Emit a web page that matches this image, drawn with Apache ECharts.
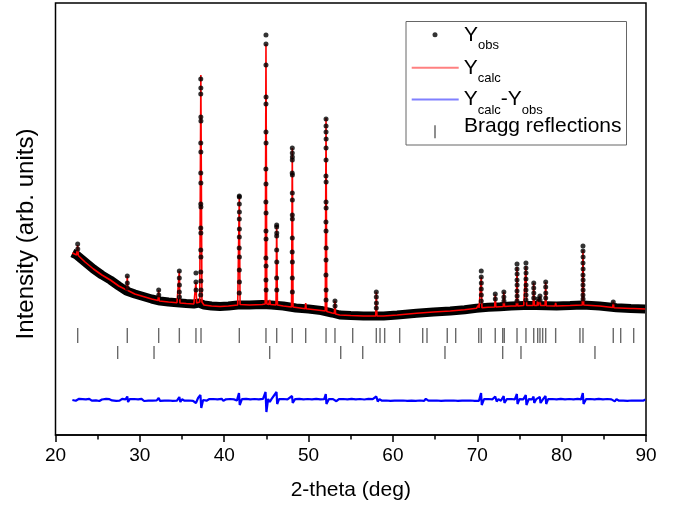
<!DOCTYPE html>
<html><head><meta charset="utf-8">
<script src="https://cdn.jsdelivr.net/npm/echarts@6/dist/echarts.min.js"></script>
<style>html,body{margin:0;padding:0;background:#fff}#c{width:676px;height:511px}</style>
</head><body><div id="c"></div>
<script>
// ---------- data (2-theta in deg, intensity in arb. units) ----------
const xTickValues = [20, 30, 40, 50, 60, 70, 80, 90];

// observed background band (Yobs, dense points shown as a band)
const obsBackground = [[22.0,182],[22.2,182],[22.5,180],[23.5,173],[24.5,166],[25.5,160],[26.5,155],[27.5,149],[28.4,144],[29.4,141],[30.4,138.5],[31.4,136],[32.4,134],[33.4,133],[34.4,132.3],[35.5,131.5],[36.4,131],[37.0,132],[37.6,130],[38.5,129],[39.5,128.5],[40.5,129],[41.6,130],[43.0,130],[44.5,130.5],[45.6,130],[47.0,129],[48.5,127],[50.0,126],[51.5,124.5],[52.8,122],[53.7,120],[55.0,119.5],[56.5,119],[58.9,119],[60.5,120],[62.8,121.7],[64.8,123],[66.8,124],[68.5,125.3],[69.9,126.7],[71.3,127.7],[72.7,128.3],[74.0,129],[75.5,129.5],[77.0,129.5],[79.4,129],[81.0,129.5],[82.5,130],[84.5,129],[86.5,127.3],[88.2,126.5],[89.9,126]];

// observed points on the reflections (Yobs)
const obsPeakPoints = [
 [22.63,191],[22.64,186],
 [28.51,159],[28.51,152],[28.52,147],
 [32.23,145],[32.24,140],
 [34.68,164],[34.68,157],[34.69,150],[34.68,143],[34.69,138],
 [36.65,162],[36.65,153],[36.66,145],
 [37.22,356],[37.23,347],[37.22,341],[37.23,318],[37.24,314],[37.22,292],[37.23,283],[37.22,262],[37.23,252],[37.22,231],[37.24,228],[37.22,207],[37.23,202],[37.22,185],[37.24,178],[37.22,163],[37.24,154],[37.25,145],[37.21,140],
 [41.79,239],[41.79,238],[41.79,231],[41.8,223],[41.79,216],[41.8,206],[41.79,198],[41.78,187],[41.8,178],[41.79,165],[41.8,153],[41.78,142],
 [44.95,400],[44.95,391],[44.95,370],[44.96,338],[44.95,331],[44.95,303],[44.96,292],[44.94,266],[44.95,251],[44.94,233],[44.96,222],[44.95,204],[44.96,196],[44.94,177],[44.96,169],[44.95,155],[44.97,145],
 [46.22,210],[46.22,208],[46.23,202],[46.22,199],[46.22,185],[46.23,173],[46.21,157],[46.23,145],
 [48.07,287],[48.07,282],[48.08,278],[48.07,275],[48.06,262],[48.08,260],[48.07,242],[48.08,235],[48.07,220],[48.08,216],[48.07,197],[48.06,183],[48.08,173],[48.07,157],[48.08,143],
 [52.07,316],[52.07,309],[52.07,303],[52.08,296],[52.07,287],[52.07,275],[52.06,259],[52.08,253],[52.07,233],[52.08,227],[52.06,213],[52.07,204],[52.08,187],[52.07,175],[52.06,160],[52.08,145],[52.07,135],
 [53.13,134],[53.14,129],
 [58.03,143],[58.03,138],[58.04,132],[58.03,127],
 [70.47,164],[70.47,158],[70.48,152],[70.47,146],[70.48,140],[70.47,134],
 [72.13,141],[72.14,136],
 [73.15,143],[73.15,138],[73.16,134],
 [74.71,171],[74.71,166],[74.72,161],[74.71,155],[74.72,150],[74.71,144],[74.72,139],[74.71,134],
 [75.77,172],[75.77,167],[75.78,162],[75.77,156],[75.78,150],[75.77,145],[75.78,140],[75.77,135],
 [76.69,152],[76.69,147],[76.7,142],[76.69,137],
 [77.16,136],[77.43,139],[77.44,135],
 [78.11,153],[78.11,148],[78.12,142],[78.11,137],
 [82.53,189],[82.53,184],[82.54,178],[82.53,172],[82.54,166],[82.53,160],[82.54,155],[82.53,150],[82.54,145],[82.53,140],[82.54,136],
 [86.12,133]
];

// calculated profile (Ycalc)
const calcProfile = [[22.0,182],[22.2,182],[22.5,180],[22.56,180],[22.63,190],[22.7,179.5],[23.5,173],[24.5,166],[25.5,160],[26.5,155],[27.5,149],[28.44,145],[28.51,159],[28.58,144.5],[29.4,141],[30.4,138.5],[31.4,136],[32.16,134.5],[32.23,145],[32.3,134],[33.4,133],[34.4,132.3],[34.61,132],[34.68,164],[34.75,132],[35.5,131.5],[36.4,131],[36.58,131],[36.65,153],[36.73,132],[37.1,133],[37.23,360],[37.36,133],[37.6,130],[38.5,129],[39.5,128.5],[40.5,129],[41.6,130],[41.71,130.5],[41.79,239],[41.88,130.5],[43.0,130],[44.5,130.5],[44.86,131],[44.95,391],[45.05,131],[45.3,130.5],[45.39,135],[45.48,130.5],[46.14,130],[46.22,210],[46.31,130],[47.0,129],[47.98,128],[48.07,287],[48.16,128],[49.6,126.3],[49.66,132],[49.72,126.2],[51.5,124.5],[51.98,124],[52.07,317],[52.16,123.5],[52.8,122],[53.06,121.5],[53.13,134.3],[53.2,121],[53.7,120],[55.0,119.5],[56.5,119],[57.96,119],[58.03,143.3],[58.1,119],[58.9,119],[60.5,120],[62.8,121.7],[64.8,123],[66.8,124],[68.5,125.3],[69.9,126.7],[70.13,127],[70.17,130],[70.21,127],[70.4,127.2],[70.47,158.3],[70.55,127.2],[71.3,127.7],[72.06,128],[72.13,140.7],[72.2,128],[73.08,128.5],[73.15,143.3],[73.23,128.5],[74.0,129],[74.63,129],[74.71,168],[74.79,129],[75.5,129.5],[75.69,129.5],[75.77,169],[75.85,129.5],[76.62,129.5],[76.69,152.3],[76.76,129.5],[77.1,129.5],[77.16,136],[77.23,129.5],[77.36,129.5],[77.43,139],[77.5,129.5],[78.04,129.5],[78.11,153],[78.18,129.3],[79.22,129],[79.29,132],[79.36,129],[81.0,129.5],[82.45,130],[82.53,185],[82.61,130],[84.5,129],[86.05,127.5],[86.12,133.3],[86.19,127.3],[88.2,126.5],[88.5,126.5],[88.54,128],[88.58,126.5],[89.9,126]];

// difference curve (Ycalc - Yobs, shifted)
const diffProfile = [[22.0,35],[22.2,36.4],[22.4,34.2],[22.63,33],[22.8,36.2],[23.0,34.6],[23.2,35.9],[23.4,34.1],[23.6,35.6],[23.8,34.4],[24.0,36.1],[24.3,34.3],[24.5,35.7],[24.8,34.6],[25.0,36.2],[25.2,34.0],[25.5,35.5],[25.7,34.5],[26.0,36.1],[26.2,34.2],[26.4,35.8],[26.7,34.6],[26.9,36.0],[27.2,34.1],[27.4,35.6],[27.6,34.4],[27.9,36.2],[28.1,34.3],[28.3,35.7],[28.51,38.5],[28.6,33],[28.8,35.9],[29.0,34.4],[29.3,36.0],[29.5,34.2],[29.8,35.6],[30.0,34.5],[30.2,36.2],[30.5,34.0],[30.7,35.7],[31.0,34.4],[31.2,36.0],[31.5,34.3],[31.7,35.5],[32.0,34.6],[32.23,37],[32.4,34.1],[32.6,35.9],[32.9,34.3],[33.1,36.1],[33.4,34.5],[33.6,35.6],[33.9,34.2],[34.1,36.0],[34.4,34.4],[34.68,38],[34.8,33],[35.0,35.8],[35.3,34.3],[35.5,36.1],[35.8,34.5],[36.0,35.6],[36.3,34.2],[36.5,35.4],[36.65,32],[36.9,37],[37.18,40],[37.28,27],[37.5,35],[37.7,36.1],[37.9,34.3],[38.2,35.8],[38.4,34.5],[38.7,36.0],[38.9,34.2],[39.2,35.6],[39.4,34.4],[39.7,36.2],[39.9,34.1],[40.2,35.7],[40.4,34.5],[40.7,36.0],[40.9,34.2],[41.2,35.6],[41.5,34.4],[41.75,42],[41.84,30],[42.1,35.9],[42.3,34.3],[42.6,36.1],[42.8,34.5],[43.1,35.6],[43.3,34.1],[43.6,36.0],[43.8,34.4],[44.1,35.7],[44.3,34.2],[44.6,36.2],[44.9,43],[45.0,23],[45.2,36],[45.4,33],[45.6,35.9],[45.8,34.2],[46.2,43],[46.28,31],[46.5,35.8],[46.7,34.4],[47.0,36.0],[47.2,34.2],[47.5,35.6],[47.7,34.5],[48.04,39],[48.12,32],[48.4,35.9],[48.6,34.3],[48.9,36.1],[49.1,34.4],[49.4,35.6],[49.6,34.2],[49.9,36.0],[50.1,34.5],[50.4,35.7],[50.6,34.1],[50.9,36.1],[51.1,34.4],[51.4,35.6],[51.6,34.3],[51.85,35.9],[52.04,41],[52.12,31],[52.4,35.8],[52.6,34.4],[52.9,35.9],[53.13,37.5],[53.3,33.8],[53.6,35.8],[53.8,34.4],[54.1,36.0],[54.3,34.2],[54.6,35.6],[54.8,34.5],[55.1,36.1],[55.3,34.1],[55.6,35.7],[55.8,34.4],[56.1,36.0],[56.3,34.3],[56.6,35.5],[56.8,34.5],[57.1,36.1],[57.3,34.2],[57.6,35.8],[57.8,34.4],[58.03,38.5],[58.2,33.5],[58.4,35.9],[58.7,34.3],[58.9,36.0],[59.2,34.5],[59.4,35.6],[59.7,34.1],[59.9,36.1],[60.2,34.4],[60.4,35.7],[60.7,34.3],[60.9,36.0],[61.2,34.5],[61.4,35.5],[61.7,34.2],[61.9,36.1],[62.2,34.4],[62.4,35.8],[62.7,34.2],[62.9,36.0],[63.2,34.5],[63.4,35.6],[63.7,34.1],[63.9,36.2],[64.2,34.4],[64.4,35.7],[64.7,34.3],[64.9,36.0],[65.2,34.5],[65.4,35.6],[65.7,34.2],[65.9,36.1],[66.2,34.4],[66.4,35.8],[66.7,34.3],[66.9,35.9],[67.2,34.5],[67.4,35.6],[67.7,34.1],[67.9,36.1],[68.2,34.4],[68.4,35.7],[68.7,34.3],[68.9,36.0],[69.2,34.5],[69.4,35.5],[69.7,34.2],[69.9,36.1],[70.2,34.2],[70.45,42],[70.53,30],[70.8,35.9],[71.0,34.4],[71.3,36.0],[71.5,34.2],[71.8,35.7],[72.0,34.4],[72.13,38.5],[72.3,33.5],[72.5,35.9],[72.8,34.3],[73.13,39],[73.22,32],[73.5,35.9],[73.7,34.3],[74.0,36.0],[74.2,34.4],[74.45,35.7],[74.69,41],[74.77,31],[75.0,35.9],[75.2,34.4],[75.45,35.6],[75.75,40],[75.83,30],[76.1,35.9],[76.3,34.4],[76.5,35.7],[76.67,38.5],[76.75,32],[77.0,35.9],[77.2,34.5],[77.41,38],[77.5,32],[77.8,35.8],[78.09,39],[78.17,31],[78.4,35.9],[78.6,34.3],[78.9,36.0],[79.1,34.4],[79.4,35.6],[79.6,34.2],[79.9,36.1],[80.1,34.5],[80.4,35.7],[80.6,34.2],[80.9,36.0],[81.1,34.4],[81.4,35.6],[81.6,34.3],[81.9,36.1],[82.1,34.4],[82.3,35.6],[82.51,42],[82.6,31],[82.9,35.9],[83.1,34.3],[83.4,36.0],[83.6,34.5],[83.9,35.6],[84.1,34.2],[84.4,36.1],[84.6,34.4],[84.9,35.7],[85.1,34.3],[85.4,36.0],[85.6,34.5],[85.9,35.6],[86.12,37.5],[86.3,33.6],[86.5,35.9],[86.8,34.3],[87.0,36.0],[87.3,34.4],[87.5,35.7],[87.8,34.2],[88.0,36.1],[88.3,34.5],[88.5,35.6],[88.8,34.3],[89.0,36.0],[89.3,34.4],[89.5,35.7],[89.7,34.3],[89.9,35.5]];

// Bragg reflection positions, phase 1 and phase 2
const braggPhase1 = [22.63,28.51,32.23,34.68,36.65,37.25,41.79,44.95,46.22,48.07,49.66,52.07,53.13,55.23,58.03,58.47,59.02,60.80,63.53,64.04,66.44,67.44,70.17,70.47,72.13,73.01,73.20,74.71,75.77,76.69,77.16,77.43,77.75,78.11,79.29,82.17,82.53,86.12,87.00,88.54];
const braggPhase2 = [27.37,31.68,45.39,53.81,56.42,66.17,73.01,75.18,83.95];

// ---------- chart ----------
const FONT = '"Liberation Sans", Arial, Helvetica, sans-serif';
const ROW1 = 99.5, ROW2 = 82.5; // vertical levels of the tick rows (arb. units)

const rich = {
  sp: {width: 21.5, fontSize: 21, lineHeight: 21, fontFamily: FONT},
  sp2: {width: 23.2, fontSize: 21, lineHeight: 31, verticalAlign: 'middle', fontFamily: FONT},
  m: {fontSize: 21, lineHeight: 21, verticalAlign: 'top', fontFamily: FONT, color: '#000'},
  s: {fontSize: 13, lineHeight: 13, verticalAlign: 'top', padding: [14.5,0,0,0], fontFamily: FONT, color: '#000'},
  t: {fontSize: 21, lineHeight: 21, verticalAlign: 'top', fontFamily: FONT, color: '#000'}
};
function legendBox(name, left, top, w, h, item, fmt) {
  return {
    show: true, orient: 'vertical', left: left, top: top, padding: 0,
    itemWidth: w, itemHeight: h, selectedMode: false,
    formatter: fmt, textStyle: {rich: rich, fontFamily: FONT},
    data: [Object.assign({name: name}, item)]
  };
}

const option = {
  animation: false,
  backgroundColor: '#fff',
  grid: {left: 55.5, right: 30, top: 3, bottom: 76, show: true, borderColor: '#000', borderWidth: 1.5, outerBoundsMode: 'none'},
  xAxis: {
    type: 'value', min: 20, max: 90, interval: 10,
    axisLine: {lineStyle: {color: '#000', width: 1.5}},
    axisTick: {length: 7, lineStyle: {color: '#000', width: 1.5}},
    minorTick: {show: true, splitNumber: 2, length: 4.5, lineStyle: {color: '#000', width: 1.5}},
    axisLabel: {fontSize: 19, color: '#000', margin: 11, fontFamily: FONT,
      customValues: xTickValues},
    splitLine: {show: false},
    name: '2-theta (deg)', nameLocation: 'middle', nameGap: 45,
    nameTextStyle: {fontSize: 21, color: '#000', fontFamily: FONT}
  },
  yAxis: {
    type: 'value', min: 0, max: 432,
    axisLine: {show: false}, axisTick: {show: false}, axisLabel: {show: false},
    splitLine: {show: false},
    name: 'Intensity (arb. units)', nameLocation: 'middle', nameGap: 17,
    nameTextStyle: {fontSize: 24, color: '#000', fontFamily: FONT, padding: [0, 30, 0, 0]}
  },
  legend: [
    legendBox('Yobs', 432.5, 24.25, 5, 5, {icon: 'circle', itemStyle: {color: '#000'}}, '{sp| }{m|Y}{s|obs}'),
    legendBox('Ycalc', 411.7, 57.3, 47, 2, {icon: 'rect', itemStyle: {color: '#ff8080'}}, '{m|Y}{s|calc}'),
    legendBox('Ycalc-Yobs', 411.7, 89.0, 47, 2, {icon: 'rect', itemStyle: {color: '#8080ff'}}, '{m|Y}{s|calc}{m|-Y}{s|obs}'),
    legendBox('Bragg reflections', 434.25, 116.2, 1.5, 13, {icon: 'rect', itemStyle: {color: '#444'}}, '{sp2| }{t|Bragg reflections}')
  ],
  graphic: [{
    type: 'rect', z: 100,
    shape: {x: 406, y: 21.5, width: 220.5, height: 123.5},
    style: {fill: 'none', stroke: '#666', lineWidth: 1}
  }],
  series: [
    {name: 'obsBand', type: 'line', data: obsBackground, symbol: 'none', silent: true, z: 1,
      lineStyle: {color: '#000', width: 9}},
    {name: 'Ycalc', type: 'line', data: calcProfile, symbol: 'none', silent: true, z: 3,
      lineStyle: {color: '#ff0000', width: 1.6}},
    {name: 'Yobs', type: 'scatter', data: obsPeakPoints, symbol: 'circle', symbolSize: 5, silent: true, z: 4,
      itemStyle: {color: '#000'}},
    {name: 'Ycalc-Yobs', type: 'line', data: diffProfile, symbol: 'none', silent: true, z: 3,
      lineStyle: {color: '#0000ff', width: 2.2}},
    {name: 'Bragg reflections', type: 'scatter', data: braggPhase1.map(v => [v, ROW1]), symbol: 'rect',
      symbolSize: [1.4, 15], silent: true, itemStyle: {color: '#444'}},
    {name: 'Bragg reflections', type: 'scatter', data: braggPhase2.map(v => [v, ROW2]), symbol: 'rect',
      symbolSize: [1.4, 13], silent: true, itemStyle: {color: '#444'}}
  ]
};
const chart = echarts.init(document.getElementById('c'), null, {renderer: 'canvas'});
chart.setOption(option);
</script></body></html>
